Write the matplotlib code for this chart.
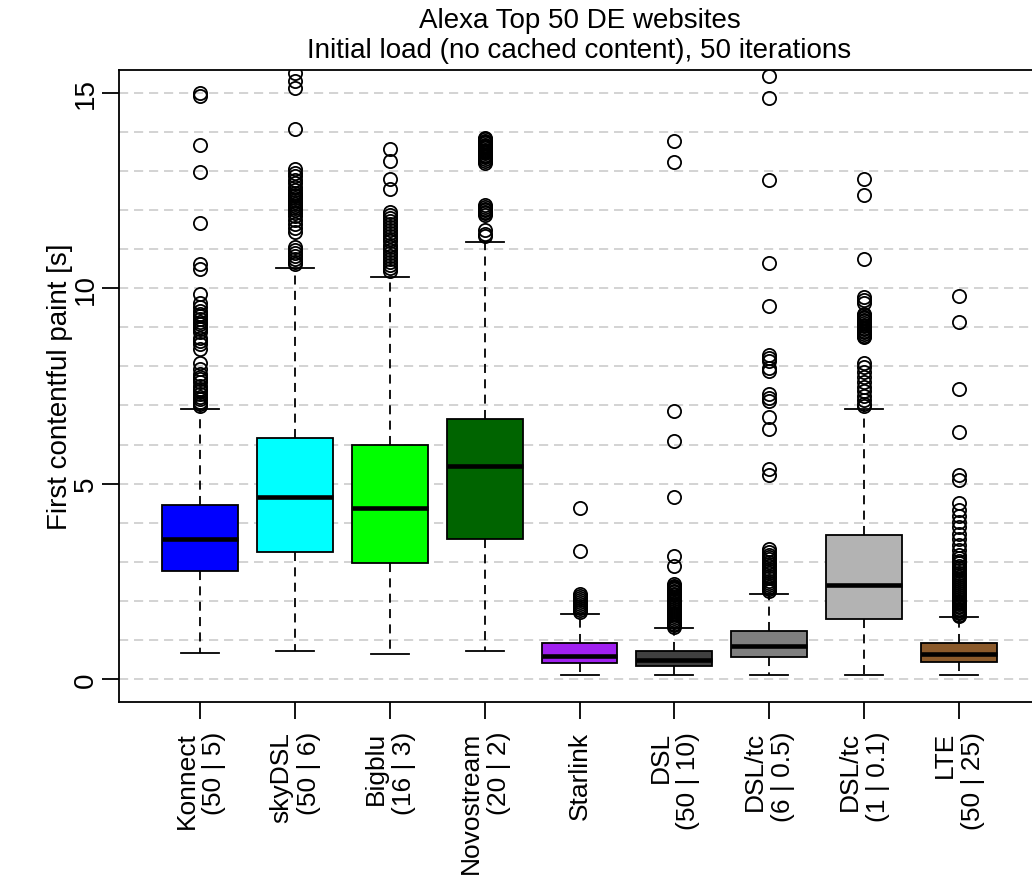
#!/usr/bin/env python3
# -*- coding: utf-8 -*-

import matplotlib
matplotlib.use("Agg")
import matplotlib.pyplot as plt


# --- Donnees ---
NAMES = ["Konnect\n(50 | 5)", "skyDSL\n(50 | 6)", "Bigblu\n(16 | 3)", "Novostream\n(20 | 2)",
         "Starlink", "DSL\n(50 | 10)", "DSL/tc\n(6 | 0.5)", "DSL/tc\n(1 | 0.1)", "LTE\n(50 | 25)"]
COLORS = ["#0000FF", "#00FFFF", "#00FF00", "#006400", "#A020F0",
          "#404040", "#7F7F7F", "#B3B3B3", "#8B5A2B"]

MEDIAN = [3.58, 4.65, 4.37, 5.44, 0.59, 0.49, 0.84, 2.40, 0.64]
Q1 = [2.77, 3.25, 2.98, 3.58, 0.42, 0.33, 0.56, 1.53, 0.44]
Q3 = [4.45, 6.18, 5.98, 6.65, 0.91, 0.72, 1.23, 3.69, 0.91]
WHIS_LO = [0.67, 0.72, 0.63, 0.72, 0.09, 0.10, 0.10, 0.11, 0.11]
WHIS_HI = [6.91, 10.53, 10.30, 11.18, 1.67, 1.30, 2.17, 6.90, 1.59]

FLIERS_KONNECT = [15.00, 14.92, 13.68, 12.97, 11.68, 10.61, 10.50, 9.85, 9.63, 9.51, 9.42,
                  9.34, 9.28, 9.21, 9.14, 9.08, 9.01, 8.95, 8.87, 8.74, 8.66, 8.57, 8.44,
                  8.10, 7.93, 7.80, 7.72, 7.67, 7.59, 7.50, 7.42, 7.37, 7.29, 7.22, 7.16,
                  7.08, 7.03, 6.99]
FLIERS_SKYDSL = [15.52, 15.30, 15.13, 14.07, 13.05, 12.95, 12.87, 12.78, 12.70, 12.60, 12.52,
                 12.45, 12.40, 12.35, 12.30, 12.25, 12.20, 12.15, 12.10, 12.05, 12.00, 11.93,
                 11.85, 11.75, 11.65, 11.55, 11.45, 11.05, 10.98, 10.90, 10.83, 10.76, 10.68,
                 10.62]
FLIERS_BIGBLU = [13.57, 13.27, 12.79, 12.55, 11.95, 11.88, 11.80, 11.72, 11.65, 11.57, 11.50,
                 11.42, 11.35, 11.27, 11.20, 11.12, 11.05, 10.97, 10.90, 10.82, 10.75, 10.68,
                 10.60, 10.52, 10.45]
FLIERS_NOVOSTREAM = [13.85, 13.82, 13.78, 13.75, 13.72, 13.68, 13.65, 13.62, 13.58, 13.55,
                     13.52, 13.48, 13.45, 13.42, 13.38, 13.35, 13.30, 13.25, 13.20, 12.12,
                     12.08, 12.04, 12.00, 11.96, 11.92, 11.88, 11.50, 11.40, 11.33]
FLIERS_STARLINK = [4.37, 3.27, 2.17, 2.12, 2.07, 2.02, 1.97, 1.92, 1.87, 1.82, 1.77, 1.72]
FLIERS_DSL = [13.77, 13.24, 6.85, 6.10, 4.66, 3.15, 2.88, 2.42, 2.39, 2.36, 2.33, 2.30, 2.26,
              2.22, 2.18, 2.14, 2.10, 2.05, 2.00, 1.95, 1.90, 1.85, 1.80, 1.75, 1.70, 1.65,
              1.60, 1.55, 1.50, 1.45, 1.41, 1.37, 1.33]
FLIERS_DSLTC_05 = [15.43, 14.87, 12.77, 10.64, 9.55, 8.30, 8.22, 8.13, 7.95, 7.88, 7.30, 7.20,
                   7.12, 6.70, 6.40, 5.37, 5.22, 3.32, 3.25, 3.18, 3.12, 3.06, 3.00, 2.94,
                   2.88, 2.82, 2.76, 2.70, 2.64, 2.58, 2.52, 2.46, 2.40, 2.35, 2.30, 2.25]
FLIERS_DSLTC_01 = [12.80, 12.40, 10.74, 9.78, 9.70, 9.63, 9.35, 9.31, 9.27, 9.23, 9.19, 9.15,
                   9.11, 9.07, 9.03, 8.99, 8.95, 8.91, 8.87, 8.83, 8.79, 8.75, 8.10, 7.98,
                   7.85, 7.72, 7.60, 7.48, 7.36, 7.24, 7.14, 7.05, 6.98]
FLIERS_LTE = [9.80, 9.13, 7.43, 6.31, 5.22, 5.08, 4.50, 4.33, 4.17, 4.02, 3.88, 3.72, 3.58,
              3.44, 3.30, 3.18, 3.10, 3.03, 2.96, 2.90, 2.84, 2.78, 2.72, 2.66, 2.60, 2.55,
              2.50, 2.45, 2.40, 2.35, 2.30, 2.25, 2.20, 2.15, 2.10, 2.05, 2.00, 1.96, 1.92,
              1.88, 1.84, 1.80, 1.76, 1.72, 1.68, 1.64, 1.61]

FLIERS = [FLIERS_KONNECT, FLIERS_SKYDSL, FLIERS_BIGBLU, FLIERS_NOVOSTREAM, FLIERS_STARLINK,
          FLIERS_DSL, FLIERS_DSLTC_05, FLIERS_DSLTC_01, FLIERS_LTE]

Y_TICKS = [0, 5, 10, 15]
GRID_LEVELS = list(range(0, 16))

TITLE_1 = "Alexa Top 50 DE websites"
TITLE_2 = "Initial load (no cached content), 50 iterations"
Y_LABEL = "First contentful paint [s]"

FS = 20
FS_X = 19
LW = 1.3
plt.rcParams["font.family"] = ["Liberation Sans", "DejaVu Sans"]

W, H = 1032, 878
fig = plt.figure(figsize=(W / 100, H / 100), dpi=100)

# zone du trace (comme R : s'etend un peu au dela du bord droit)
left_px, right_px, top_px, bottom_px = 118.8, 1040.3, 70.5, 703.4
ax = fig.add_axes([left_px / W, 1 - bottom_px / H,
                   (right_px - left_px) / W, (bottom_px - top_px) / H])

# Grille horizontale
for g in GRID_LEVELS:
    ax.axhline(g, color="#CCCCCC", linewidth=1.2, linestyle=(0, (5.5, 3.5)), zorder=0)

stats = []
for i in range(len(NAMES)):
    stats.append({"med": MEDIAN[i], "q1": Q1[i], "q3": Q3[i],
                  "whislo": WHIS_LO[i], "whishi": WHIS_HI[i], "fliers": FLIERS[i]})

positions = list(range(1, len(NAMES) + 1))
bp = ax.bxp(stats, positions=positions, widths=0.8, patch_artist=True,
            showfliers=True,
            boxprops=dict(edgecolor="black", linewidth=LW),
            medianprops=dict(color="black", linewidth=3.3, solid_capstyle="butt"),
            whiskerprops=dict(color="black", linewidth=LW, linestyle=(0, (5, 3.5))),
            capprops=dict(color="black", linewidth=LW),
            flierprops=dict(marker="o", markerfacecolor="none", markeredgecolor="black",
                            markersize=9.5, markeredgewidth=LW, linestyle="none"))
for patch, col in zip(bp["boxes"], COLORS):
    patch.set_facecolor(col)
    patch.set_zorder(2)

ax.set_xlim(0.14, 9.86)
ax.set_ylim(-0.6, 15.6)
ax.set_yticks(Y_TICKS)
ax.set_yticklabels([str(t) for t in Y_TICKS], rotation=90, va="center")
ax.set_xticks(positions)
ax.set_xticklabels(NAMES, rotation=90, ha="center", va="top", multialignment="right")
ax.tick_params(axis="both", length=12.5, width=LW, color="black")
ax.tick_params(axis="x", pad=8, labelsize=FS_X)
ax.tick_params(axis="y", pad=2, labelsize=FS)

for side in ["left", "bottom", "top", "right"]:
    ax.spines[side].set_linewidth(LW)
    ax.spines[side].set_color("black")

ax.set_ylabel(Y_LABEL, fontsize=FS, labelpad=0)

cx = (left_px + right_px) / 2 / W
fig.text(cx, 1 - 28 / H, TITLE_1, ha="center", va="baseline", fontsize=FS)
fig.text(cx, 1 - 58 / H, TITLE_2, ha="center", va="baseline", fontsize=FS)

fig.savefig("out.png", dpi=100)
plt.close(fig)
